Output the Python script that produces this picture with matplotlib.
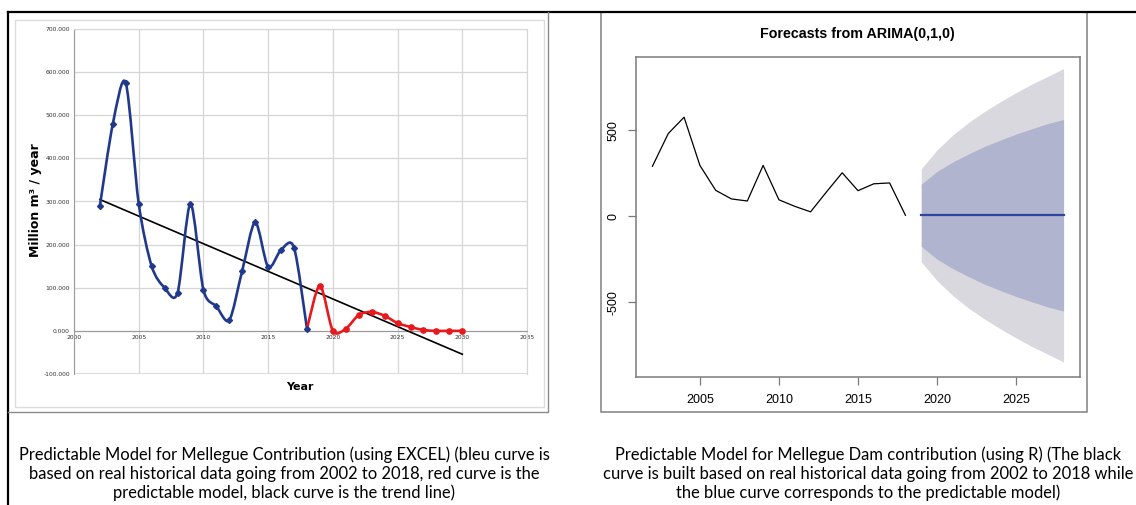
import numpy as np
import matplotlib
matplotlib.use("Agg")
import matplotlib.pyplot as plt
from matplotlib.path import Path
from matplotlib.patches import PathPatch, Rectangle
from matplotlib.lines import Line2D

plt.rcParams["axes.unicode_minus"] = False

# historical contribution (million m3 / year), 2002-2018
hist_years = [2002, 2003, 2004, 2005, 2006, 2007, 2008, 2009, 2010,
              2011, 2012, 2013, 2014, 2015, 2016, 2017, 2018]
hist_values = [290, 480, 575, 295, 150, 100, 88, 295, 95,
               57, 25, 140, 252, 148, 188, 193, 5]

# Excel predictable model, 2019-2030
pred_years = [2019, 2020, 2021, 2022, 2023, 2024, 2025, 2026, 2027, 2028, 2029, 2030]
pred_values = [105, 0, 5, 37, 44, 35, 18, 9, 2, 0, 0, 0]

# R forecast, ARIMA(0,1,0), 2019-2028
fc_years = [2019, 2020, 2021, 2022, 2023, 2024, 2025, 2026, 2027, 2028]
fc_mean = [5, 5, 5, 5, 5, 5, 5, 5, 5, 5]
fc_hi80 = [185, 260, 315, 362, 405, 442, 477, 508, 538, 562]
fc_lo80 = [-175, -250, -305, -352, -395, -432, -467, -498, -528, -552]
fc_hi95 = [275, 385, 472, 545, 608, 665, 718, 768, 812, 858]
fc_lo95 = [-265, -375, -462, -535, -598, -655, -708, -758, -802, -848]

left_yticks = [-100, 0, 100, 200, 300, 400, 500, 600, 700]
left_xticks = [2000, 2005, 2010, 2015, 2020, 2025, 2030, 2035]
right_xticks = [2005, 2010, 2015, 2020, 2025]
right_yticks = [-500, 0, 500]

caption_left = ("Predictable Model for Mellegue Contribution (using EXCEL) (bleu curve is\n"
                "based on real historical data going from 2002 to 2018, red curve is the\n"
                "predictable model, black curve is the trend line)")
caption_right = ("Predictable Model for Mellegue Dam contribution (using R) (The black\n"
                 "curve is built based on real historical data going from 2002 to 2018 while\n"
                 "the blue curve corresponds to the predictable model)")

W, H = 1136, 505
BLUE = "#20398c"
RED = "#e8191c"


def fx(px):
    return px / W


def fy(py):
    return 1 - py / H


def box(x0, y0, x1, y1):
    return [fx(x0), fy(y1), (x1 - x0) / W, (y1 - y0) / H]


def smooth_path(xs, ys, t=1 / 7):
    """Excel-like smoothed line as cubic bezier segments."""
    pts = np.column_stack([xs, ys]).astype(float)
    n = len(pts)
    verts = [pts[0]]
    codes = [Path.MOVETO]
    for i in range(n - 1):
        p0 = pts[i - 1] if i > 0 else pts[i]
        p1, p2 = pts[i], pts[i + 1]
        p3 = pts[i + 2] if i + 2 < n else pts[i + 1]
        verts += [p1 + (p2 - p0) * t, p2 - (p3 - p1) * t, p2]
        codes += [Path.CURVE4] * 3
    return Path(verts, codes)


fig = plt.figure(figsize=(W / 100, H / 100), dpi=100)
fig.patch.set_facecolor("white")

# frames
fig.add_artist(Line2D([fx(8), fx(1136)], [fy(12), fy(12)], color="black", lw=1.6))
fig.add_artist(Line2D([fx(8), fx(8)], [fy(12), fy(505)], color="black", lw=1.6))
fig.add_artist(Line2D([fx(8), fx(548), fx(548)], [fy(412), fy(412), fy(12)], color="#8a8a8a", lw=1.0))
fig.add_artist(Rectangle((fx(15), fy(407)), (544 - 15) / W, (407 - 20) / H,
                         transform=fig.transFigure, fill=False, ec="#dcdcdc", lw=1.0))
fig.add_artist(Rectangle((fx(601), fy(412)), (1087 - 601) / W, (412 - 12) / H,
                         transform=fig.transFigure, fill=False, ec="#808080", lw=1.1))

# ---- left: Excel chart ----
ax = fig.add_axes(box(74, 29, 527, 374))
ax.set_xlim(2000, 2035)
ax.set_ylim(-100, 700)
ax.set_xticks(left_xticks)
ax.set_yticks(left_yticks)
ax.set_yticklabels([f"{v:.3f}" for v in left_yticks])
ax.grid(True, color="#d6d6d6", lw=0.9)
ax.set_axisbelow(True)
for s in ["top", "right"]:
    ax.spines[s].set_color("#d6d6d6")
ax.spines["bottom"].set_position(("data", 0))
ax.spines["bottom"].set_color("#9a9a9a")
ax.spines["left"].set_color("#9a9a9a")
ax.axhline(-100, color="#d6d6d6", lw=1.2)
ax.tick_params(length=0, labelsize=4.3, pad=3, colors="#333333")

all_years = hist_years + pred_years
all_values = hist_values + pred_values
k, b = np.polyfit(all_years, all_values, 1)
trend_x = np.array([hist_years[0], pred_years[-1]])
ax.plot(trend_x, k * trend_x + b, color="black", lw=1.2, zorder=3)

ax.add_patch(PathPatch(smooth_path(hist_years, hist_values), fill=False,
                       ec=BLUE, lw=1.9, zorder=4))
ax.plot(hist_years, hist_values, ls="none", marker="D", ms=3, color=BLUE, zorder=5)
red_x = [hist_years[-1]] + pred_years
red_y = [hist_values[-1]] + pred_values
ax.add_patch(PathPatch(smooth_path(red_x, red_y), fill=False,
                       ec=RED, lw=1.9, zorder=4))
ax.plot(pred_years, pred_values, ls="none", marker="o", ms=3.8, color=RED, zorder=5)

fig.text(fx(35), fy(200), "Million m³ / year", rotation=90, ha="center", va="center",
         fontsize=9, fontweight="bold", family="DejaVu Sans")
fig.text(fx(300), fy(387), "Year", ha="center", va="center",
         fontsize=8, fontweight="bold", family="DejaVu Sans")

# ---- right: R forecast ----
ax2 = fig.add_axes(box(636, 57, 1080, 377))
ax2.set_xlim(2000.96, 2029.04)
ax2.set_ylim(-935, 925)
ax2.fill_between(fc_years, fc_lo95, fc_hi95, color="#d8d8de", lw=0)
ax2.fill_between(fc_years, fc_lo80, fc_hi80, color="#b0b4cf", lw=0)
ax2.plot(fc_years, fc_mean, color="#2e44a0", lw=1.6)
ax2.plot(hist_years, hist_values, color="black", lw=0.9)
ax2.set_xticks(right_xticks)
ax2.set_yticks(right_yticks)
for s in ax2.spines.values():
    s.set_color("#7a7a7a")
    s.set_linewidth(1.1)
ax2.tick_params(direction="out", length=6, width=0.9, color="#7a7a7a",
                labelsize=9, pad=6)
for lab in ax2.get_xticklabels() + ax2.get_yticklabels():
    lab.set_family("Liberation Sans")
for lab in ax2.get_yticklabels():
    lab.set_rotation(90)
    lab.set_va("center")
fig.text(fx(857), fy(34), "Forecasts from ARIMA(0,1,0)", ha="center", va="center",
         fontsize=10.3, fontweight="bold", family="Liberation Sans")

# captions
fig.text(fx(284), fy(474), caption_left, ha="center", va="center", fontsize=11.9,
         family="Lato", linespacing=1.2, multialignment="center")
fig.text(fx(868), fy(474), caption_right, ha="center", va="center", fontsize=11.9,
         family="Lato", linespacing=1.2, multialignment="center")

fig.savefig("out.png", dpi=100)
